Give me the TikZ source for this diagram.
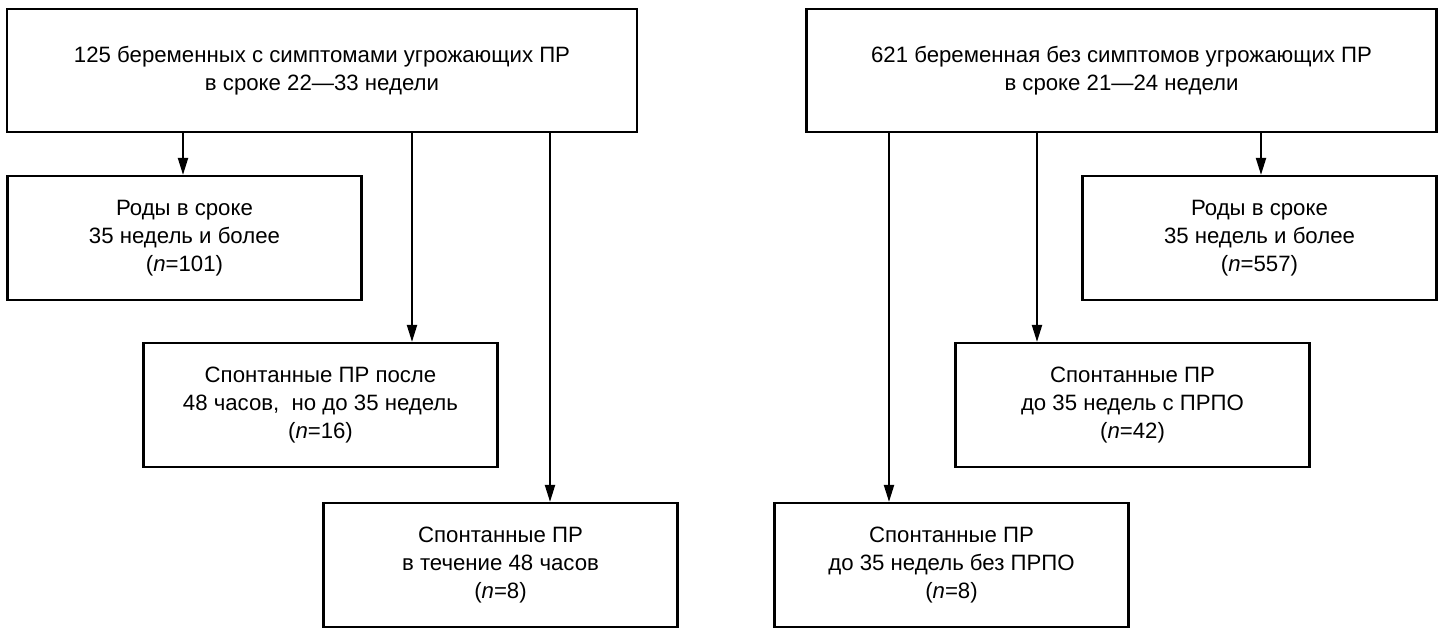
\documentclass[tikz,border=0pt]{standalone}
\usepackage{fontspec}
\setmainfont{Liberation Sans}
\usetikzlibrary{arrows.meta}
\begin{document}
\begin{tikzpicture}[x=0.5pt,y=-0.5pt,
    box/.style={draw,line width=1.1pt,align=center,inner sep=0pt,
      font=\fontsize{11.1}{14}\selectfont,minimum width=177pt,minimum height=62pt},
    wide/.style={box,minimum width=315pt,minimum height=61.5pt},
    arr/.style={-{Triangle[length=8.5pt,width=5pt]},line width=1pt}]
  \useasboundingbox (0,0) rectangle (1445,628);
  \draw
    (322,70.5) node[wide] (a){125 беременных с симптомами угрожающих ПР\\в сроке 22—33 недели}
    (1121.5,70.5) node[wide] (b){621 беременная без симптомов угрожающих ПР\\в сроке 21—24 недели}
    (184.5,238) node[box] (a1){Роды в сроке\\35 недель и более\\(\textit{n}=101)}
    (320.5,405) node[box] (a2){Спонтанные ПР после\\48 часов,\ \ но до 35 недель\\(\textit{n}=16)}
    (500.5,565) node[box] (a3){Спонтанные ПР\\в течение 48 часов\\(\textit{n}=8)}
    (1259.5,238) node[box] (b1){Роды в сроке\\35 недель и более\\(\textit{n}=557)}
    (1132.5,405) node[box] (b2){Спонтанные ПР\\до 35 недель с ПРПО\\(\textit{n}=42)}
    (951.5,565) node[box] (b3){Спонтанные ПР\\до 35 недель без ПРПО\\(\textit{n}=8)};
  \begin{scope}[arr]
    \draw (a.south -| 183,0) to (a1.north -| 183,0);
    \draw (a.south -| 412,0) to (a2.north -| 412,0);
    \draw (a.south -| 550,0) to (a3.north -| 550,0);
    \draw (b.south -| 889,0) to (b3.north -| 889,0);
    \draw (b.south -| 1037,0) to (b2.north -| 1037,0);
    \draw (b.south -| 1261,0) to (b1.north -| 1261,0);
  \end{scope}
\end{tikzpicture}
\end{document}
